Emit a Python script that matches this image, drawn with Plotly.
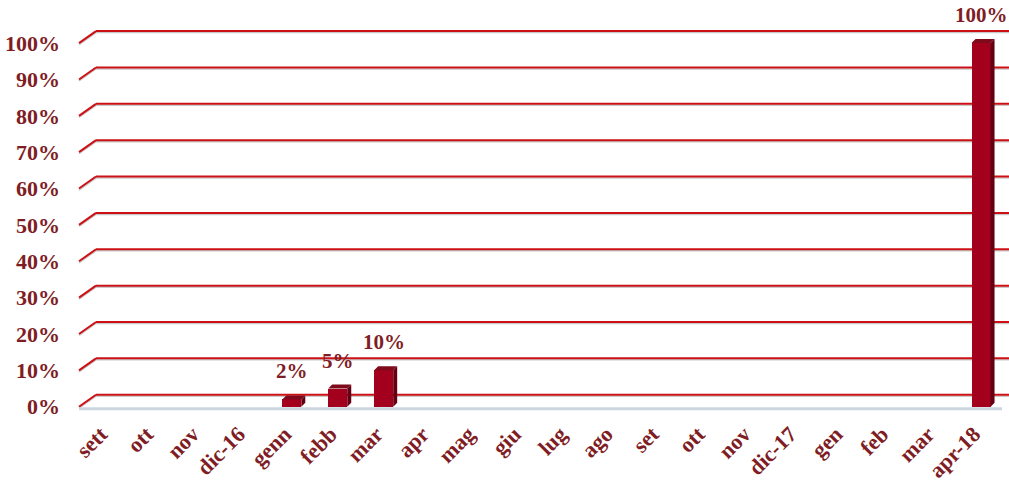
import plotly.graph_objects as go

months = ["sett", "ott", "nov", "dic-16", "genn", "febb", "mar", "apr", "mag", "giu",
          "lug", "ago", "set", "ott", "nov", "dic-17", "gen", "feb", "mar", "apr-18"]
values = [None, None, None, None, 2, 5, 10, None, None, None,
          None, None, None, None, None, None, None, None, None, 100]
y_ticks = [0, 10, 20, 30, 40, 50, 60, 70, 80, 90, 100]

TEXT = "#7F1D25"
FRONT = "#A3001E"
SIDE = "#650012"
TOP = "#7E0A1C"
GRID = "#CC1016"
SHADOW = "#C9C9C9"
FONT = "Liberation Serif"

W, H = 1009, 483
ML, MR, MT, MB = 85, 5, 14, 69
YMIN, YMAX = -2, 108
px_per_x = (W - ML - MR) / len(months)
px_per_y = (H - MT - MB) / (YMAX - YMIN)

xs = list(range(len(months)))
bw = 0.414
dx = 4 / px_per_x
dy = 4 / px_per_y

fig = go.Figure()

# front faces
fig.add_trace(go.Bar(x=xs, y=values, width=bw, marker=dict(color=FRONT, line=dict(width=0)),
                     hoverinfo="skip", showlegend=False))

# side and top faces, computed from the data
sx, sy, tx, ty = [], [], [], []
for x, v in zip(xs, values):
    if v is None:
        continue
    r = x + bw / 2
    l = x - bw / 2
    sx += [r, r + dx, r + dx, r, r, None]
    sy += [0, dy, v + dy, v, 0, None]
    tx += [l, l + dx, r + dx, r, l, None]
    ty += [v, v + dy, v + dy, v, v, None]
fig.add_trace(go.Scatter(x=sx, y=sy, mode="lines", fill="toself", fillcolor=SIDE,
                         line=dict(width=0, color=SIDE), hoverinfo="skip", showlegend=False))
fig.add_trace(go.Scatter(x=tx, y=ty, mode="lines", fill="toself", fillcolor=TOP,
                         line=dict(width=0, color=TOP), hoverinfo="skip", showlegend=False))

# back-wall gridlines with diagonal stubs (and a soft shadow under each)
shapes = []
for t in y_ticks:
    for off, col, wid in [(-1.5, SHADOW, 1.5), (0, GRID, 2)]:
        shapes.append(dict(type="line", xref="paper", yref="y", xsizemode="pixel", ysizemode="pixel",
                           xanchor=0, yanchor=t, x0=11, x1=W - ML + 2, y0=12 + off, y1=12 + off,
                           line=dict(color=col, width=wid), layer="below"))
        shapes.append(dict(type="line", xref="paper", yref="y", xsizemode="pixel", ysizemode="pixel",
                           xanchor=0, yanchor=t, x0=-6, x1=11, y0=0 + off, y1=12 + off,
                           line=dict(color=col, width=wid), layer="below"))
# floor
shapes.append(dict(type="line", xref="paper", yref="y", xsizemode="pixel", ysizemode="pixel",
                   xanchor=0, yanchor=0, x0=-6, x1=W - ML - MR - 2, y0=-2, y1=-2,
                   line=dict(color="#CBD6E0", width=3), layer="below"))

annotations = []
for x, v in zip(xs, values):
    if v is None:
        continue
    annotations.append(dict(x=x, y=v, text=f"{v}%", showarrow=False, yanchor="middle",
                            yshift=28, font=dict(family=FONT, size=21, color=TEXT, weight="bold")))

fig.update_layout(
    width=W, height=H,
    margin=dict(l=ML, r=MR, t=MT, b=MB, autoexpand=False),
    paper_bgcolor="white", plot_bgcolor="white",
    shapes=shapes, annotations=annotations,
    bargap=0,
    xaxis=dict(range=[-0.5, len(months) - 0.5], tickmode="array", tickvals=xs, ticktext=months,
               tickangle=-45, showgrid=False, zeroline=False, showline=False, ticks="",
               ticklabelstandoff=2, ticklabelshift=-7, automargin=False,
               tickfont=dict(family=FONT, size=22, color=TEXT, weight="bold")),
    yaxis=dict(range=[YMIN, YMAX], tickmode="array", tickvals=y_ticks,
               ticktext=[f"{t}%" for t in y_ticks], showgrid=False, zeroline=False,
               showline=False, ticks="", ticklabelstandoff=24, automargin=False,
               tickfont=dict(family=FONT, size=22, color=TEXT, weight="bold")),
)

fig.write_html("out.html", config={"displayModeBar": False},
               post_script="document.body.style.margin='0';")
